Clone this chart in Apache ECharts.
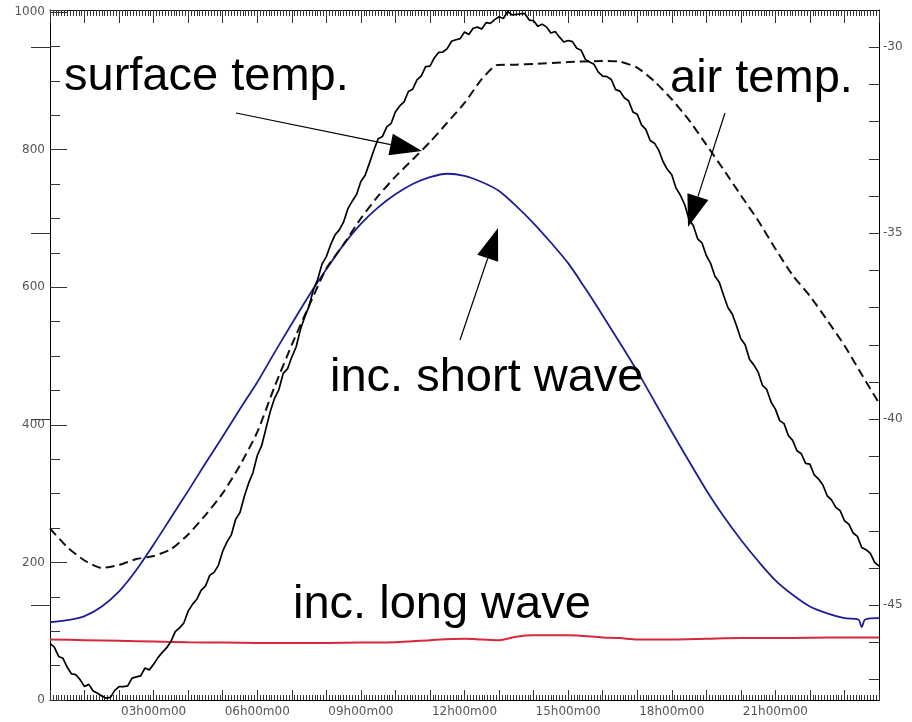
<!DOCTYPE html>
<html><head><meta charset="utf-8">
<script src="https://cdn.jsdelivr.net/npm/echarts@6/dist/echarts.min.js"></script>
<style>html,body{margin:0;padding:0;background:#fff}#c{width:912px;height:722px}</style>
</head><body><div id="c"></div>
<script>
// ---- data ----
// time axis: hours of day
const timeLabelHours = [3, 6, 9, 12, 15, 18, 21];
const leftTickLabels = [0, 200, 400, 600, 800, 1000];
const rightTickLabels = [-45, -40, -35, -30];
const rightMinorTicks = [-47,-46,-45,-44,-43,-42,-41,-40,-39,-38,-37,-36,-35,-34,-33,-32,-31,-30];

// incoming short wave (W/m2, left axis)
const swHours  = [0,0.5,1,1.5,2,2.5,3,3.5,4,4.5,5,5.5,6,6.5,7,7.5,8,8.5,9,9.5,10,10.5,11,11.5,12,12.5,13,13.5,14,14.5,15,15.5,16,16.5,17,17.5,18,18.5,19,19.5,20,20.5,21,21.5,22,22.5,23,23.4,23.5,23.6,24];
const swValues = [113,116,122,136,158,189,226,265,304,344,383,423,462,505,547,588,626,662,692,716,735,750,760,765,762,753,740,718,693,665,635,598,559,519,478,434,390,347,305,267,233,202,174,153,136,126,119,117,106,117,119];

// incoming long wave (W/m2, left axis)
const lwHours  = [0,1,2,3,4,5,6,7,8,9,10,11,12,12.5,13,13.5,14,15,16,16.5,17,18,19,20,21,22,23,24];
const lwValues = [88,87,86,85,84,83.5,83,83,83,83.5,84,87,89,88,87,92,94,94,91,90,88,88,89,90,90,90.5,91,91];

// surface temperature (degC, right axis) - dashed
const stHours  = [0,0.5,1,1.5,2,2.5,3,3.5,4,4.5,5,5.5,6,6.5,7,7.5,8,8.5,9,9.5,10,10.5,11,11.5,12,12.5,12.95,13.5,14,15,16,16.5,17,17.5,18,18.5,19,19.5,20,20.5,21,21.5,22,22.5,23,23.5,24];
const stValues = [-42.94,-43.44,-43.80,-44.00,-43.92,-43.76,-43.68,-43.50,-43.10,-42.58,-41.99,-41.24,-40.35,-39.13,-38.00,-36.95,-35.95,-35.30,-34.60,-34.00,-33.48,-33.02,-32.55,-32.03,-31.50,-30.86,-30.48,-30.47,-30.45,-30.40,-30.37,-30.39,-30.55,-30.92,-31.40,-31.96,-32.62,-33.29,-33.98,-34.66,-35.42,-36.13,-36.69,-37.34,-38.02,-38.80,-39.57];

// air temperature (degC, right axis), every 7.5 minutes from 00h00
const atStepHours = 0.125;
const atValues = [
 -46.03,-46.13,-46.38,-46.43,-46.67,-46.85,-46.87,-47.01,-47.19,-47.13,-47.31,-47.37,
 -47.44,-47.50,-47.48,-47.29,-47.19,-47.19,-47.17,-46.96,-46.93,-46.90,-46.69,-46.74,
 -46.59,-46.41,-46.27,-46.15,-45.98,-45.71,-45.61,-45.48,-45.16,-44.98,-44.84,-44.60,
 -44.49,-44.20,-44.12,-43.93,-43.55,-43.30,-43.11,-42.69,-42.51,-42.08,-41.72,-41.44,
 -40.98,-40.72,-40.26,-39.80,-39.44,-39.21,-38.77,-38.65,-38.33,-38.06,-37.59,-37.25,
 -36.96,-36.52,-36.24,-35.83,-35.63,-35.31,-35.05,-34.91,-34.70,-34.34,-34.14,-33.96,
 -33.61,-33.44,-33.11,-32.77,-32.46,-32.40,-32.14,-32.05,-31.74,-31.58,-31.47,-31.19,
 -31.13,-30.88,-30.77,-30.52,-30.51,-30.29,-30.14,-30.13,-30.04,-29.84,-29.80,-29.77,
 -29.59,-29.66,-29.49,-29.46,-29.51,-29.34,-29.36,-29.26,-29.18,-29.23,-29.04,-29.13,
 -29.12,-29.10,-29.10,-29.27,-29.29,-29.44,-29.38,-29.46,-29.62,-29.58,-29.73,-29.86,
 -29.82,-29.85,-30.03,-30.08,-30.33,-30.40,-30.46,-30.67,-30.78,-30.79,-30.87,-31.14,
 -31.18,-31.36,-31.44,-31.74,-31.80,-32.09,-32.21,-32.51,-32.58,-32.77,-33.08,-33.29,
 -33.43,-33.79,-33.98,-34.23,-34.63,-34.80,-35.15,-35.26,-35.60,-35.81,-36.16,-36.32,
 -36.67,-37.00,-37.17,-37.49,-37.84,-38.00,-38.39,-38.54,-38.73,-39.09,-39.20,-39.54,
 -39.73,-40.04,-40.12,-40.44,-40.57,-40.85,-40.93,-41.19,-41.21,-41.50,-41.61,-41.77,
 -42.06,-42.17,-42.37,-42.46,-42.73,-42.82,-43.06,-43.15,-43.45,-43.51,-43.61,-43.85,
 -43.95
];

// annotations
const annoTexts = [
  {text: 'surface temp.', x: 64,  base: 91},
  {text: 'air temp.',     x: 670, base: 93},
  {text: 'inc. short wave', x: 330, base: 392},
  {text: 'inc. long wave',  x: 293, base: 619}
];
const annoArrows = [
  [236, 113, 422, 151],
  [725, 113, 688, 227],
  [460, 340, 498, 228]
];

// ---- chart ----
const zip = (xs, ys) => xs.map((x, i) => [x, ys[i]]);
const atData = atValues.map((v, i) => [i * atStepHours, v]);

const labelFont = {fontFamily: 'DejaVu Sans', fontSize: 12, color: '#555'};
const tickStyle = {color: '#333', width: 1};

function arrowGraphics(a) {
  const [x1, y1, x2, y2] = a;
  const dx = x2 - x1, dy = y2 - y1, L = Math.hypot(dx, dy);
  const ux = dx / L, uy = dy / L, hl = 32, hw = 11;
  const bx = x2 - ux * hl, by = y2 - uy * hl;
  return [
    {type: 'line', shape: {x1, y1, x2: bx, y2: by}, style: {stroke: '#000', lineWidth: 1.2}, z: 100},
    {type: 'polygon', shape: {points: [[x2, y2], [bx - uy * hw, by + ux * hw], [bx + uy * hw, by - ux * hw]]}, style: {fill: '#000'}, z: 100}
  ];
}

const graphics = [];
annoTexts.forEach(t => graphics.push({
  type: 'text', x: t.x, y: t.base - 14, z: 100,
  style: {text: t.text, font: '47px "Liberation Sans"', fill: '#000', verticalAlign: 'middle', align: 'left'}
}));
annoArrows.forEach(a => graphics.push(...arrowGraphics(a)));

const chart = echarts.init(document.getElementById('c'), null, {renderer: 'canvas'});
chart.setOption({
  animation: false,
  backgroundColor: '#fff',
  grid: {left: 50, right: 33, top: 10, bottom: 22, containLabel: false},
  xAxis: [{
    type: 'value', min: 0, max: 24, interval: 1, position: 'bottom',
    axisLine: {show: true, onZero: false, lineStyle: {color: '#000', width: 1}},
    axisTick: {show: true, inside: true, length: 10, lineStyle: tickStyle},
    minorTick: {show: true, splitNumber: 12, length: 5, lineStyle: tickStyle},
    splitLine: {show: false},
    axisLabel: Object.assign({margin: 6,
      formatter: v => timeLabelHours.indexOf(v) >= 0 ? String(v).padStart(2, '0') + 'h00m00' : ''}, labelFont)
  }, {
    type: 'value', min: 0, max: 24, interval: 1, position: 'top',
    axisLine: {show: true, onZero: false, lineStyle: {color: '#000', width: 1}},
    axisTick: {show: true, inside: true, length: 13, lineStyle: tickStyle},
    minorTick: {show: true, splitNumber: 12, length: 6, lineStyle: tickStyle},
    splitLine: {show: false}, axisLabel: {show: false}
  }],
  yAxis: [{
    type: 'value', min: 0, max: 1003, interval: 200, position: 'left',
    axisLine: {show: true, onZero: false, lineStyle: {color: '#000', width: 1}},
    axisTick: {show: true, inside: true, length: 17, lineStyle: tickStyle},
    minorTick: {show: true, splitNumber: 4, length: 10, lineStyle: tickStyle},
    splitLine: {show: false},
    axisLabel: Object.assign({margin: 5, formatter: v => leftTickLabels.indexOf(v) >= 0 ? String(v) : ''}, labelFont)
  }, {
    type: 'value', min: -47.55, max: -29.0, position: 'right',
    axisLine: {show: true, onZero: false, lineStyle: {color: '#000', width: 1}},
    axisTick: {show: true, inside: true, length: 10, lineStyle: tickStyle, customValues: rightMinorTicks},
    splitLine: {show: false},
    axisLabel: Object.assign({margin: 4, customValues: rightTickLabels}, labelFont)
  }, {
    type: 'value', min: -47.55, max: -29.0, position: 'right',
    axisLine: {show: false},
    axisTick: {show: true, inside: true, length: 19, lineStyle: tickStyle, customValues: rightTickLabels},
    splitLine: {show: false},
    axisLabel: {show: false}
  }],
  series: [{
    name: 'inc. long wave', type: 'line', xAxisIndex: 0, yAxisIndex: 0, data: zip(lwHours, lwValues),
    showSymbol: false, smooth: 0.3, lineStyle: {color: '#d8283c', width: 2}, z: 3
  }, {
    name: 'inc. short wave', type: 'line', xAxisIndex: 0, yAxisIndex: 0, data: zip(swHours, swValues),
    showSymbol: false, smooth: 0.3, lineStyle: {color: '#1e1e96', width: 1.8}, z: 4
  }, {
    name: 'surface temp.', type: 'line', xAxisIndex: 0, yAxisIndex: 1, data: zip(stHours, stValues),
    showSymbol: false, smooth: 0.2, lineStyle: {color: '#111', width: 2, type: [9, 5]}, z: 5
  }, {
    name: 'air temp.', type: 'line', xAxisIndex: 0, yAxisIndex: 1, data: atData,
    showSymbol: false, smooth: false, lineStyle: {color: '#000', width: 1.7}, z: 6
  }],
  graphic: graphics
});
</script>
</body></html>
